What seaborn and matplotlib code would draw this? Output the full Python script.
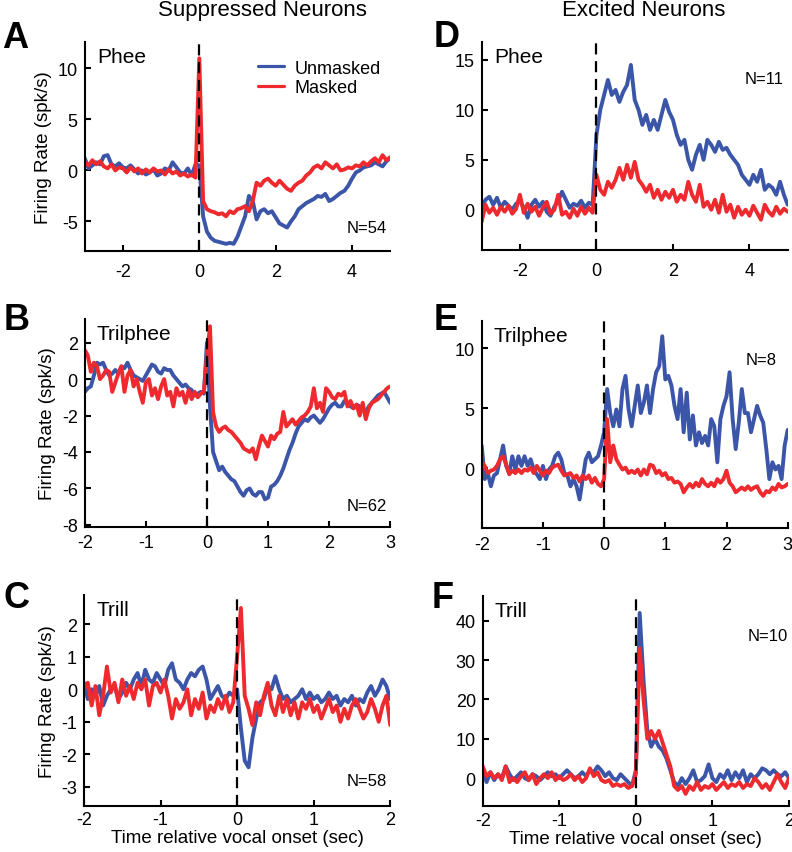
import numpy as np
import pandas as pd
import seaborn as sns
import matplotlib.pyplot as plt

BLUE = "#3b55a8"
RED = "#ee2a2f"
CONDITIONS = ["Unmasked", "Masked"]

# --- panel A: suppressed, phee (t = -3..5, step 0.1) ---
a_time = np.round(np.linspace(-3, 5, 81), 2)
a_unmasked = [
    1.2, 0.2, 0.5, 0.8, 0.6, 1.4, 1.5, 0.6, 0.4, 0.7,
    0.3, 0.2, 0.5, 0.1, -0.3, 0.0, -0.4, -0.2, 0.1, -0.5,
    -0.3, 0.2, 0.0, 0.8, 0.3, -0.2, -0.3, 0.2, -0.5, 0.6,
    0.5, -4.5, -6.0, -6.6, -6.9, -7.0, -7.1, -7.2, -7.1, -7.2,
    -6.5, -5.5, -4.5, -2.5, -3.0, -4.8, -4.0, -3.8, -4.2, -4.0,
    -4.6, -5.2, -5.4, -5.6, -5.0, -4.5, -3.8, -3.5, -3.2, -3.0,
    -2.8, -2.5, -2.6, -2.3, -3.0, -2.8, -2.5, -2.2, -2.0, -1.5,
    -0.8, -0.2, 0.0, 0.3, 0.4, 0.5, 0.8, 0.6, 0.4, 0.9,
    1.2,
]
a_masked = [
    0.8, 0.5, 1.0, 0.6, 0.9, 0.4, 0.2, 0.6, 0.0, 0.3,
    0.2, -0.2, 0.3, -0.1, 0.2, -0.3, 0.1, -0.2, 0.2, -0.1,
    0.0, -0.4, 0.1, -0.3, -0.1, -0.5, -0.3, -0.6, -0.4, -0.7,
    11.0, -3.0, -3.8, -4.0, -4.1, -4.3, -4.2, -4.5, -4.0, -4.2,
    -3.8, -3.7, -3.5, -4.0, -3.0, -1.2, -1.5, -1.0, -0.8, -1.2,
    -1.5, -1.0, -1.4, -1.8, -2.0, -1.5, -1.2, -1.0, -0.5, -0.2,
    0.3, 0.5, 0.2, 0.8, 0.5, 0.2, 0.6, 0.0, 0.1, 0.3,
    0.2, 0.5, 0.4, 0.8, 0.5, 0.9, 1.2, 0.8, 1.5, 1.0,
    1.3,
]

# --- panel D: excited, phee (t = -3..5, step 0.1) ---
d_time = np.round(np.linspace(-3, 5, 81), 2)
d_unmasked = [
    0.3, 1.0, 1.3, 0.5, 1.2, 0.2, 0.8, 0.4, 0.0, 0.6,
    0.9, 0.2, -0.8, 0.5, 1.0, 0.3, 0.8, -0.2, -0.6, 0.3,
    0.9, 1.8, 1.0, 0.2, 0.6, 0.4, 0.9, 0.2, 0.7, 0.5,
    7.5, 10.0, 11.5, 13.0, 11.5, 12.0, 10.8, 11.8, 12.5, 14.5,
    11.0, 10.0, 8.5, 9.5, 8.0, 9.0, 8.0, 9.5, 11.0, 9.8,
    9.0, 7.5, 6.5, 7.0, 5.0, 4.0, 5.5, 6.5, 5.0, 7.0,
    6.5, 5.8, 6.8, 6.0, 6.2, 5.5, 5.0, 4.5, 3.5, 3.0,
    2.5, 3.5, 2.8, 4.0, 2.0, 2.5, 2.2, 1.5, 2.8, 1.5,
    0.5,
]
d_masked = [
    -1.2, 0.5, -0.3, 0.2, -0.5, 0.3, -0.2, 0.4, -0.4, 0.1,
    1.5, -0.3, 0.6, -0.2, 0.3, -0.6, 0.2, 0.8, -0.4, 0.0,
    1.5, -0.5, -0.2, -0.8, 0.1, -0.6, 0.3, -0.4, 0.2, -0.3,
    3.5, 2.0, 1.5, 2.8, 2.2, 3.0, 4.2, 3.0, 4.5, 3.2,
    4.8, 3.0, 2.5, 1.8, 2.5, 1.2, 2.0, 1.0, 1.8, 1.2,
    2.0, 0.8, 1.5, 1.0, 2.8, 1.5, 0.8, 2.5, 0.3, 0.8,
    0.0, 1.0, -0.3, 1.5, -0.2, 0.5, -0.8, 0.3, -0.5, 0.0,
    -0.6, 0.4, -0.3, -1.0, 0.5, -0.2, -0.6, 0.3, -0.4, 0.1,
    -0.2,
]

# --- panel B: suppressed, trilphee (t = -2..3, step 0.05) ---
b_time = np.round(np.linspace(-2, 3, 101), 2)
b_unmasked = [
    -0.7, -0.5, -0.4, 0.2, 0.9, 0.8, 0.9, 0.5, 0.2, 0.3,
    0.5, 0.3, 0.7, 0.6, 0.9, 0.5, 0.2, 0.1, 0.0, -0.1,
    0.2, 0.5, 0.8, 0.7, 0.4, 0.3, 0.6, 0.5, 0.5, 0.2,
    0.0, -0.2, -0.4, -0.3, -0.5, -0.6, -0.9, -0.8, -0.7, -0.8,
    2.0, -1.5, -4.0, -4.5, -5.0, -4.8, -5.1, -5.3, -5.5, -5.6,
    -5.9, -6.2, -6.4, -6.1, -6.0, -6.3, -6.4, -6.2, -6.2, -6.6,
    -6.5, -5.9, -5.8, -5.6, -5.3, -4.9, -4.4, -3.9, -3.5, -3.0,
    -2.6, -2.4, -2.2, -2.3, -2.1, -2.0, -2.2, -2.4, -2.2, -1.9,
    -1.6, -1.4, -1.3, -1.5, -1.5, -1.2, -1.3, -1.5, -1.6, -1.4,
    -1.5, -1.7, -1.8, -1.5, -1.3, -1.1, -0.9, -0.8, -0.7, -1.0,
    -1.3,
]
b_masked = [
    1.6, 1.3, 0.4, 0.9, 0.7, 0.0, 0.2, 0.5, 0.4, -0.7,
    -0.2, 0.3, 0.7, -0.7, 0.2, 0.5, -0.4, 0.0, -0.7, -1.3,
    -0.2, 0.0, -0.9, -0.5, -1.1, -0.4, 0.0, -0.9, -0.7, -1.5,
    -0.5, -0.9, -0.7, -1.3, -0.6, -1.1, -0.7, -1.0, -0.8, -0.7,
    1.3, 2.9, -1.8, -2.6, -2.9, -2.7, -2.6, -2.8, -2.9, -3.1,
    -3.3, -3.5, -3.8, -3.9, -4.0, -3.8, -4.4, -3.7, -3.1, -3.4,
    -3.7, -3.1, -3.3, -3.0, -2.9, -1.8, -2.6, -2.4, -2.2, -2.5,
    -2.3, -2.1, -2.0, -1.8, -1.5, -0.5, -1.6, -1.3, -1.8, -0.5,
    -0.7, -1.0, -1.1, -0.8, -0.9, -0.7, -1.5, -1.2, -1.6, -1.4,
    -2.0, -1.3, -2.2, -1.6, -1.3, -1.2, -1.1, -0.9, -0.7, -0.5,
    -0.4,
]

# --- panel E: excited, trilphee (t = -2..3, step 0.05) ---
e_time = np.round(np.linspace(-2, 3, 101), 2)
e_unmasked = [
    1.9, -0.9, -0.4, -1.5, -0.6, -0.4, 0.75, 1.9, 0.2, -0.4,
    1.0, -0.1, 1.0, 0.2, 1.0, 0.2, 0.75, -0.1, -0.5, -0.9,
    0.2, -0.9, -0.1, 0.2, 1.0, 1.3, 0.75, -0.4, -0.6, -1.5,
    -0.9, -1.5, -2.6, -0.9, 0.75, 1.3, 0.5, 0.75, 1.0, 1.9,
    3.0, 6.6, 4.6, 3.5, 4.9, 3.5, 6.6, 7.7, 4.9, 3.5,
    5.2, 6.9, 4.6, 5.5, 6.9, 4.6, 6.6, 8.0, 8.5, 11.0,
    7.4, 7.7, 6.9, 5.2, 4.1, 6.6, 3.0, 6.3, 2.4, 4.4,
    1.9, 3.0, 2.1, 2.7, 1.9, 4.1, 3.5, 0.5, 4.1, 5.2,
    6.0, 8.0, 4.1, 1.6, 3.8, 6.6, 4.6, 4.6, 3.0, 4.1,
    5.2, 4.4, 3.8, 1.6, -0.9, 0.5, -0.1, 0.2, -0.9, 1.9,
    3.2,
]
e_masked = [
    0.5, 0.2, -0.4, -0.2, -0.1, 0.2, 0.75, 1.0, 0.3, -0.5,
    -0.2, -0.4, -0.1, -0.4, -0.1, -0.2, 0.05, -0.4, 0.2, -0.2,
    -0.6, -0.2, -0.4, 0.05, 0.2, 0.3, -0.2, -0.6, -0.5, -0.4,
    -0.8, -0.6, -1.1, -0.6, -0.9, -0.6, -1.2, -0.8, -1.3, -1.5,
    -0.9, 4.1, 0.5, 1.9, 0.75, 0.3, -0.1, 0.05, -0.4, -0.2,
    -0.4, -0.1, -0.6, -0.1, -0.5, 0.3, 0.2, -0.4, -0.2, -0.6,
    -0.4, -0.9, -0.8, -1.2, -1.1, -1.3, -2.0, -1.6, -1.3, -1.6,
    -1.2, -1.5, -0.9, -1.3, -1.5, -1.2, -1.5, -0.9, -1.2, -0.9,
    -0.2, -1.2, -1.5, -2.0, -1.8, -1.6, -1.8, -1.5, -1.8, -1.6,
    -1.5, -2.0, -2.3, -1.9, -2.0, -1.6, -1.8, -1.3, -1.6, -1.5,
    -1.3,
]

# --- panel C: suppressed, trill (t = -2..2, step 0.05) ---
c_time = np.round(np.linspace(-2, 2, 81), 2)
c_unmasked = [
    0.2, -0.3, 0.0, -0.2, 0.1, -0.5, -0.2, 0.0, 0.1, -0.3,
    -0.1, 0.2, 0.0, 0.3, 0.5, 0.1, 0.6, 0.3, 0.2, 0.5,
    0.3, 0.1, 0.6, 0.8, 0.3, 0.2, 0.0, 0.3, 0.5, 0.4,
    0.6, 0.7, 0.3, -0.3, -0.1, 0.1, -0.2, -0.3, -0.1, -0.2,
    0.0, -1.2, -2.2, -2.4, -1.5, -0.9, -0.4, -0.3, 0.1, 0.0,
    0.4, 0.0, -0.3, -0.2, -0.4, -0.3, -0.2, 0.0, -0.3, -0.1,
    -0.3, -0.2, -0.4, -0.3, -0.1, -0.3, -0.2, -0.5, -0.3, -0.4,
    -0.2, -0.5, -0.3, -0.4, -0.1, 0.1, -0.2, 0.0, 0.3, 0.1,
    -0.3,
]
c_masked = [
    0.0, 0.2, -0.5, 0.1, -0.8, -0.2, 0.7, -0.1, 0.2, -0.4,
    0.3, -0.2, 0.1, -0.3, 0.2, 0.0, 0.3, -0.5, 0.1, 0.2,
    -0.1, 0.3, -0.2, -0.9, -0.3, -0.6, -0.4, 0.0, -0.8, -0.3,
    -0.6, -0.1, -0.9, -0.5, -0.7, -0.3, -0.6, -0.2, -0.7, -0.4,
    1.0, 2.5, -0.2, -0.6, -1.1, -0.4, -0.8, -0.2, 0.2, -0.5,
    -0.8, -0.2, -0.7, -0.3, -0.8, -0.4, -0.9, -0.4, -0.6, -0.3,
    -0.7, -0.5, -0.9, -0.6, -0.3, -0.7, -0.5, -1.0, -0.6, -0.9,
    -0.5, -0.3, -0.6, -0.9, -0.7, -0.3, -0.6, -1.0, -0.5, -0.2,
    -1.1,
]

# --- panel F: excited, trill (t = -2..2, step 0.05) ---
f_time = np.round(np.linspace(-2, 2, 81), 2)
f_unmasked = [
    2.5, -1.0, 1.5, -0.5, 1.0, 0.0, 3.0, 1.0, -0.5, 0.5,
    1.5, 0.0, -0.5, 1.0, 0.5, -0.5, 0.5, 1.5, 0.5, 1.0,
    0.0, 1.0, 2.0, 1.0, 0.0, 0.5, 1.5, 0.5, 2.0, 1.5,
    3.0, 2.0, 0.5, 1.5, 0.0, -0.5, 1.0, 0.0, -1.0, -2.0,
    2.0, 42.0, 25.0, 12.0, 8.0, 10.0, 8.0, 7.0, 5.0, 2.0,
    -1.0, -2.0, 0.0, -1.5, 0.0, 2.0, -1.0, -0.5, 0.5, 3.5,
    0.0, -1.0, 1.0, 0.0, 2.0, -0.5, 1.5, 0.0, 2.0, -1.0,
    1.0, 0.0, 1.0, 2.5, 2.0, 1.0, 2.0, 1.0, 0.5, 1.5,
    0.0,
]
f_masked = [
    3.0, 0.5, 1.5, 0.0, 1.0, -0.5, 3.0, -1.0, 0.0, -1.0,
    0.5, 1.5, -0.5, 1.0, -1.5, 0.0, 1.0, 0.0, 1.5, -0.5,
    0.5, -0.5, 0.0, 1.0, -0.5, 0.5, -1.0, 0.0, 2.5, 0.5,
    1.5, -0.5, -1.0, -0.5, -2.0, -1.5, -2.0, -1.5, -2.5, -2.0,
    1.0, 33.0, 20.0, 10.0, 12.0, 10.0, 12.0, 9.0, 6.0, 3.0,
    -2.0, -3.0, -2.0, -4.0, -2.0, -3.0, -1.0, -3.0, -2.0, -2.5,
    -1.5, -3.0, -2.0, -1.0, -2.5, -1.5, -2.0, -1.0, -2.5, -1.5,
    -2.0, 0.0, -1.0, -2.5, -1.5, -3.0, -1.0, 1.0, -1.0, -2.5,
    0.0,
]

# y tick values per panel
a_yticks = [-5, 0, 5, 10]
b_yticks = [-8, -6, -4, -2, 0, 2]
c_yticks = [-3, -2, -1, 0, 1, 2]
d_yticks = [0, 5, 10, 15]
e_yticks = [0, 5, 10]
f_yticks = [0, 10, 20, 30, 40]


def panel_df(time, unmasked, masked):
    n = len(time)
    return pd.DataFrame(
        {
            "time": np.concatenate([time, time]),
            "rate": np.concatenate([unmasked, masked]),
            "condition": [CONDITIONS[0]] * n + [CONDITIONS[1]] * n,
        }
    )


def draw_panel(ax, df, xlim, ylim, xticks, yticks, name, n_text, n_pos,
               left_col, bottom_row, xpad):
    sns.lineplot(
        data=df,
        x="time",
        y="rate",
        hue="condition",
        hue_order=CONDITIONS,
        palette=[BLUE, RED],
        linewidth=2.8,
        estimator=None,
        errorbar=None,
        legend=False,
        ax=ax,
    )
    ax.axvline(0, color="black", linestyle=(0, (5, 3)), linewidth=1.6, zorder=5)
    ax.set_xlim(xlim)
    ax.set_ylim(ylim)
    ax.set_xticks(xticks)
    ax.set_yticks(yticks)
    sns.despine(ax=ax)
    for side in ["left", "bottom"]:
        ax.spines[side].set_linewidth(1.5)
    ax.tick_params(direction="in", length=4, width=1.5, labelsize=13)
    ax.tick_params(axis="x", pad=xpad)
    ax.tick_params(axis="y", pad=5)
    ax.text(0.04, 0.93, name, transform=ax.transAxes, fontsize=15, va="center", ha="left")
    ax.text(n_pos[0], n_pos[1], n_text, transform=ax.transAxes, fontsize=12, va="center", ha="right")
    ax.set_ylabel("Firing Rate (spk/s)" if left_col else "", fontsize=13.5)
    ax.set_xlabel("Time relative vocal onset (sec)" if bottom_row else "", fontsize=13.5, labelpad=1)


sns.set_style(
    "ticks",
    {
        "axes.edgecolor": "black",
        "text.color": "black",
        "xtick.color": "black",
        "ytick.color": "black",
        "axes.labelcolor": "black",
    },
)
plt.rcParams["font.family"] = ["Liberation Sans", "DejaVu Sans"]
plt.rcParams["axes.unicode_minus"] = False

fig = plt.figure(figsize=(7.92, 8.53), dpi=100)

ax_a = fig.add_axes([0.107, 0.7046, 0.3857, 0.245])
ax_d = fig.add_axes([0.6082, 0.7061, 0.3864, 0.2435])
ax_b = fig.add_axes([0.107, 0.3807, 0.3857, 0.2442])
ax_e = fig.add_axes([0.6082, 0.3795, 0.3864, 0.2434])
ax_c = fig.add_axes([0.106, 0.0543, 0.3867, 0.247])
ax_f = fig.add_axes([0.6095, 0.0543, 0.3867, 0.2462])

draw_panel(ax_a, panel_df(a_time, a_unmasked, a_masked), (-3, 5), (-7.9, 12.6),
           [-2, 0, 2, 4], a_yticks, "Phee", "N=54", (0.99, 0.113), True, False, 8.5)
draw_panel(ax_d, panel_df(d_time, d_unmasked, d_masked), (-3, 5), (-4, 16.8),
           [-2, 0, 2, 4], d_yticks, "Phee", "N=11", (0.986, 0.822), False, False, 9)
draw_panel(ax_b, panel_df(b_time, b_unmasked, b_masked), (-2, 3), (-8.13, 3.3),
           [-2, -1, 0, 1, 2, 3], b_yticks, "Trilphee", "N=62", (0.99, 0.104), True, False, 5)
draw_panel(ax_e, panel_df(e_time, e_unmasked, e_masked), (-2, 3), (-5, 12.3),
           [-2, -1, 0, 1, 2, 3], e_yticks, "Trilphee", "N=8", (0.964, 0.815), False, False, 5.5)
draw_panel(ax_c, panel_df(c_time, c_unmasked, c_masked), (-2, 2), (-3.58, 2.9),
           [-2, -1, 0, 1, 2], c_yticks, "Trill", "N=58", (0.99, 0.119), True, True, 3.5)
draw_panel(ax_f, panel_df(f_time, f_unmasked, f_masked), (-2, 2), (-7, 46.4),
           [-2, -1, 0, 1, 2], f_yticks, "Trill", "N=10", (0.997, 0.81), False, True, 4.5)

# legend only in panel A
handles = [plt.Line2D([], [], color=c, linewidth=2.3) for c in [BLUE, RED]]
ax_a.legend(
    handles,
    CONDITIONS,
    loc="upper left",
    bbox_to_anchor=(0.566, 0.915),
    frameon=False,
    fontsize=13,
    handlelength=1.45,
    handletextpad=0.6,
    labelspacing=0.15,
    borderpad=0,
    borderaxespad=0,
)

fig.text(262 / 792, 1 - 16 / 853, "Suppressed Neurons", fontsize=16, ha="center", va="baseline")
fig.text(644 / 792, 1 - 16 / 853, "Excited Neurons", fontsize=16, ha="center", va="baseline")

for letter, x, y in [("A", 0.003, 0.9437), ("D", 0.547, 0.945), ("B", 0.004, 0.6131),
                     ("E", 0.547, 0.613), ("C", 0.004, 0.2872), ("F", 0.545, 0.2872)]:
    fig.text(x, y, letter, fontsize=26, fontweight="bold", ha="left", va="baseline")

fig.savefig("out.png", dpi=100)
